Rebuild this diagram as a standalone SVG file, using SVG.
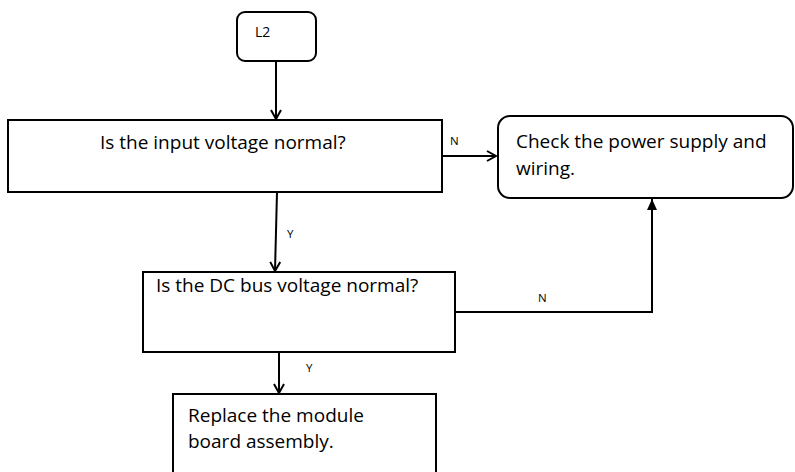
<svg xmlns="http://www.w3.org/2000/svg" width="795" height="472" viewBox="0 0 795 472">
<style>
.box{fill:#fff;stroke:#000;stroke-width:2}
.t{font-family:"Open Sans","Liberation Sans",sans-serif;font-size:19px;fill:#000}
.s{font-family:"Open Sans","Liberation Sans",sans-serif;font-size:11.5px;fill:#000}
.c{fill:none;stroke:#000;stroke-width:2}
</style>
<defs>
<marker id="open" markerWidth="12" markerHeight="12" refX="10" refY="6" orient="auto" markerUnits="userSpaceOnUse">
<path d="M1,1 L10,6 L1,11" fill="none" stroke="#000" stroke-width="2"/>
</marker>
<marker id="fill" markerWidth="12" markerHeight="12" refX="11" refY="6" orient="auto" markerUnits="userSpaceOnUse">
<path d="M0,1 L11,6 L0,11 Z" fill="#000"/>
</marker>
</defs>
<rect width="795" height="472" fill="#fff"/>
<g id="connectors">
<line class="c" x1="276" y1="61" x2="276" y2="119" marker-end="url(#open)"/>
<line class="c" x1="442" y1="156" x2="496" y2="156" marker-end="url(#open)"/>
<line class="c" x1="277" y1="192" x2="275" y2="271" marker-end="url(#open)"/>
<polyline class="c" points="455,312 652,312 652,199" marker-end="url(#fill)"/>
<line class="c" x1="279" y1="352" x2="279" y2="393" marker-end="url(#open)"/>
<text class="s" x="450" y="145">N</text>
<text class="s" x="287" y="238">Y</text>
<text class="s" x="538" y="302">N</text>
<text class="s" x="306" y="372">Y</text>
</g>
<g id="L2">
<rect class="box" x="237" y="12" width="79" height="49" rx="8"/>
<text class="t" x="255" y="37" style="font-size:14px">L2</text>
</g>
<g id="q1">
<rect class="box" x="8" y="120" width="434" height="72"/>
<text class="t" x="100" y="149">Is the input voltage normal?</text>
</g>
<g id="check">
<rect class="box" x="498" y="116" width="295" height="82" rx="12"/>
<text class="t" x="516" y="148">Check the power supply and</text>
<text class="t" x="516" y="175">wiring.</text>
</g>
<g id="q2">
<rect class="box" x="143" y="272" width="312" height="80"/>
<text class="t" x="156" y="292">Is the DC bus voltage normal?</text>
</g>
<g id="replace">
<rect class="box" x="173" y="394" width="263" height="90"/>
<text class="t" x="188" y="422">Replace the module</text>
<text class="t" x="188" y="448">board assembly.</text>
</g>
</svg>
